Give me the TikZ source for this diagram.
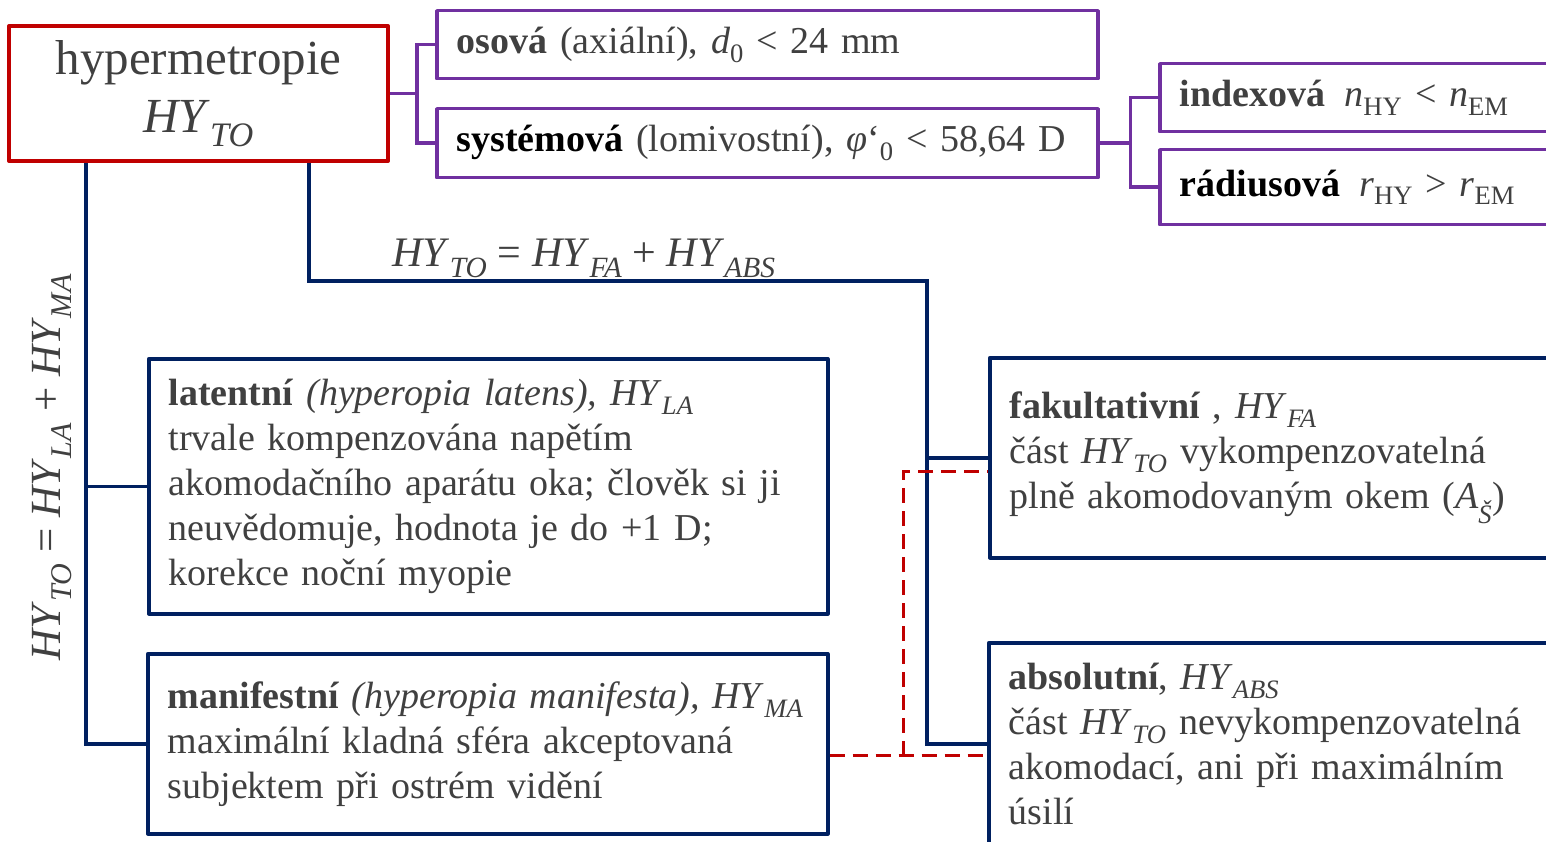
\documentclass[tikz,border=0pt]{standalone}
\usepackage{fontspec}
\setmainfont{Liberation Serif}
\definecolor{hyred}{HTML}{C00000}
\definecolor{hypurple}{HTML}{7030A0}
\definecolor{hynavy}{HTML}{002060}
\definecolor{hytext}{HTML}{404040}
\newcommand{\HY}[1]{\textit{HY}\textsubscript{\textit{#1}}}
\tikzset{
  box/.style={draw, line width=3.5pt, line join=round, rectangle, anchor=north west,
    inner xsep=20pt, inner ysep=0pt, align=left, text=hytext,
    font=\fontsize{38}{45}\selectfont},
  purplebox/.style={box, draw=hypurple},
  navybox/.style={box, draw=hynavy},
  link/.style={line width=3.5pt},
}
\begin{document}
\begin{tikzpicture}[x=1pt, y=-1pt]
  \useasboundingbox (0,0) rectangle (1546,842);

  % Main box
  \node[draw=hyred, line width=4pt, line join=round, minimum width=379pt, minimum height=135pt,
        inner sep=0pt, align=center, text=hytext, font=\fontsize{49}{58}\selectfont]
        (hyper) at (198.5,93.5) {hypermetropie\\\HY{TO}};

  % Types (purple)
  \node[purplebox, minimum width=661pt, minimum height=68pt, text width=621pt] (osova) at (435,9)
        {\textbf{osová} (axiální), \textit{d}\textsubscript{0} < 24 mm};
  \node[purplebox, minimum width=661pt, minimum height=69pt, text width=621pt] (sys) at (435,107)
        {\textbf{\textcolor{black}{systémová}} (lomivostní), \textit{φ}‘\textsubscript{0} < 58,64 D};
  \node[purplebox, minimum width=420pt, minimum height=68pt, text width=380pt] (index) at (1158,62)
        {\textbf{indexová}\enspace\textit{n}\textsubscript{HY} <\ \textit{n}\textsubscript{EM}};
  \node[purplebox, minimum width=420pt, minimum height=75pt, text width=380pt] (radius) at (1158,148)
        {\textbf{\textcolor{black}{rádiusová}}\enspace\textit{r}\textsubscript{HY} >\ \textit{r}\textsubscript{EM}};

  % Components (navy)
  \node[navybox, minimum width=679pt, minimum height=255pt, text width=639pt] (lat) at (147,357)
        {\textbf{latentní} \textit{(hyperopia latens), HY}\textsubscript{\textit{LA}}\\
         trvale kompenzována napětím\\
         akomodačního aparátu oka; člověk si ji\\
         neuvědomuje, hodnota je do +1 D;\\
         korekce noční myopie};
  \node[navybox, minimum width=680pt, minimum height=180pt, text width=640pt] (man) at (146,652)
        {\textbf{manifestní} \textit{(hyperopia manifesta), HY}\textsubscript{\textit{MA}}\\
         maximální kladná sféra akceptovaná\\
         subjektem při ostrém vidění};
  \node[navybox, minimum width=600pt, minimum height=200pt, text width=560pt] (fak) at (988,356)
        {\textbf{fakultativní} , \HY{FA}\\
         část \HY{TO} vykompenzovatelná\\
         plně akomodovaným okem (\textit{A}\textsubscript{\textit{Š}})};
  \node[navybox, minimum width=600pt, minimum height=202pt, text width=560pt] (abs) at (987,641)
        {\textbf{absolutní}, \HY{ABS}\\
         část \HY{TO} nevykompenzovatelná\\
         akomodací, ani při maximálním\\
         úsilí};

  % Purple brackets
  \coordinate (pb) at ([xshift=27pt]hyper.east);
  \coordinate (sb) at ([xshift=31pt]sys.east);
  \draw[link, draw=hypurple] (hyper.east) -- (pb);
  \draw[link, draw=hypurple] (osova.west) -| (pb) |- (sys.west);
  \draw[link, draw=hypurple] (sys.east) -- (sb);
  \draw[link, draw=hypurple] (index.west) -| (sb) |- (radius.west);

  % Left branch: LA + MA
  \coordinate (jl) at (86,0);
  \draw[link, draw=hynavy] (hyper.south -| jl) |- (man.west);
  \draw[link, draw=hynavy] (jl |- lat.west) -- (lat.west);
  \node[rotate=90, text=hytext, font=\fontsize{43}{50}\selectfont] (sumlm) at (52,467)
        {\HY{TO} = \HY{LA} + \HY{MA}};

  % Right branch: FA + ABS
  \coordinate (sum) at (309,281);
  \coordinate (knee) at (927,281);
  \draw[link, draw=hynavy] (hyper.south -| sum) -- (sum) -- (knee) |- (abs.west);
  \draw[link, draw=hynavy] (knee |- fak.west) -- (fak.west);
  \node[anchor=south, text=hytext, font=\fontsize{42}{50}\selectfont] (sumfa) at (584,281)
        {\HY{TO} = \HY{FA} + \HY{ABS}};

  % Dashed link
  \coordinate (dm) at ([yshift=-12pt]man.east);
  \coordinate (df) at ([yshift=-14pt]fak.west);
  \coordinate (dk) at (903,0);
  \draw[line width=3pt, draw=hyred, dash pattern=on 15pt off 8pt] (dm) -- (dm -| abs.west);
  \draw[line width=3pt, draw=hyred, dash pattern=on 15pt off 8pt] (dm -| dk) |- (df);
\end{tikzpicture}
\end{document}
